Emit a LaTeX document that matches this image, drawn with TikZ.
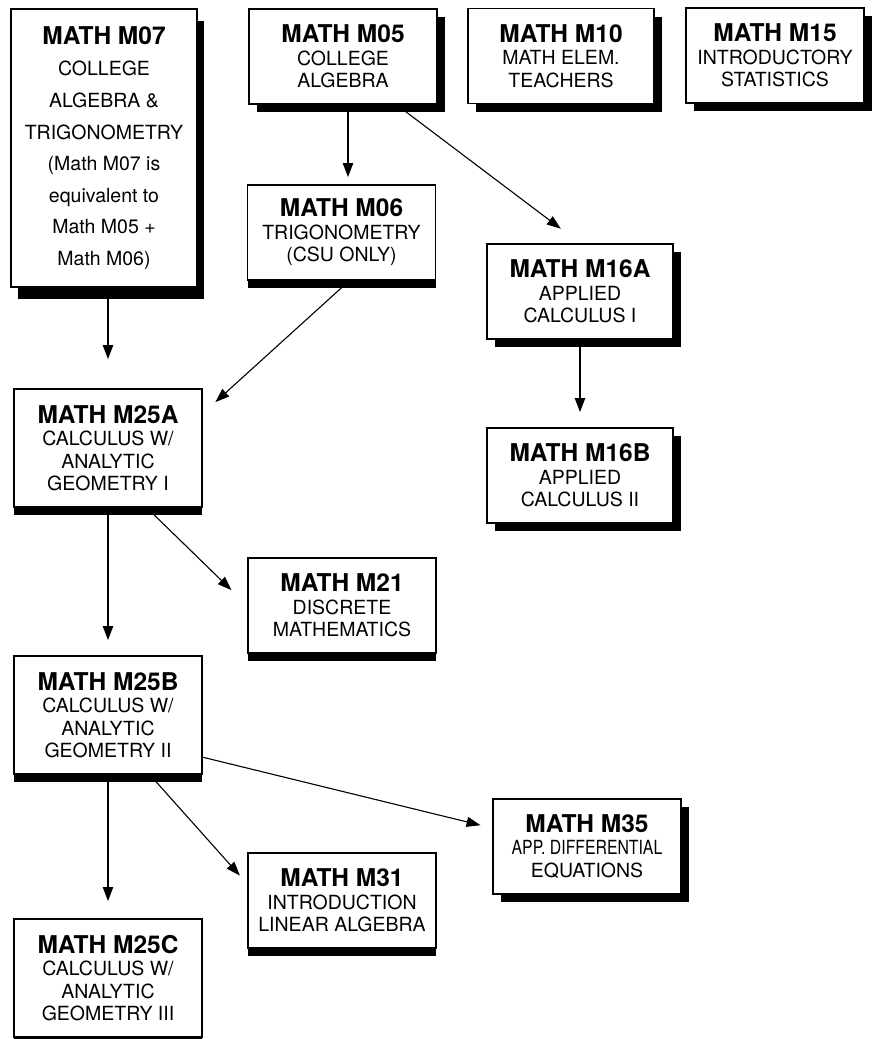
\documentclass[tikz,border=0pt]{standalone}
\usepackage{fontspec}
\setmainfont{TeX Gyre Heros}
\usetikzlibrary{arrows.meta,shadows}
\tikzset{
    >={Triangle[length=14pt,width=10pt]},
    course/.style = {
        draw,
        shape=rectangle,
        fill=white,
        line width=1.6pt,
        minimum width=188pt,
        minimum height=95pt,
        inner sep=0pt,
        align=center,
        font=\fontsize{19.5}{22.5}\selectfont
    },
    tall/.style = {
        minimum height=118pt
    },
    shadowrb/.style = {
        drop shadow={shadow xshift=8pt, shadow yshift=-8pt, fill=black, opacity=1}
    },
    shadowb/.style = {
        drop shadow={shadow xshift=0pt, shadow yshift=-8pt, fill=black, opacity=1}
    },
    prereq/.style = {
        draw,
        ->,
        line width=2pt
    },
    link/.style = {
        draw,
        ->,
        line width=1.1pt
    },
}
\newcommand{\ctitle}[1]{{\fontsize{24.5}{22.5}\selectfont\bfseries #1}}

\begin{document}
\begin{tikzpicture}[x=1pt, y=-1pt]
        \useasboundingbox (0,0) rectangle (871,1039);

        \node[course, minimum width=186pt, minimum height=278pt, font=\fontsize{19.5}{31.6}\selectfont,
              drop shadow={shadow xshift=7pt, shadow yshift=-12pt, fill=black, opacity=1}] (m07) at (104,148)
              {\ctitle{MATH M07}\\COLLEGE\\ALGEBRA \&\\TRIGONOMETRY\\(Math M07 is\\equivalent to\\Math M05 +\\Math M06)};
        \node[course, shadowrb] (m05) at (343,56.5) {\ctitle{MATH M05}\\COLLEGE\\ALGEBRA};
        \node[course, shadowrb, minimum width=186pt] (m10) at (561,56) {\ctitle{MATH M10}\\MATH ELEM.\\TEACHERS};
        \node[course, shadowrb, minimum width=178pt] (m15) at (775,55.5) {\ctitle{MATH M15}\\INTRODUCTORY\\STATISTICS};

        \node[course, shadowb] (m06) at (341.5,232.5) {\ctitle{MATH M06}\\TRIGONOMETRY\\(CSU ONLY)};
        \node[course, shadowrb, minimum width=186pt] (m16a) at (580,291.5) {\ctitle{MATH M16A}\\APPLIED\\CALCULUS I};
        \node[course, shadowrb, minimum width=186pt] (m16b) at (580,475.5) {\ctitle{MATH M16B}\\APPLIED\\CALCULUS II};

        \node[course, tall, shadowb] (m25a) at (108,448) {\ctitle{MATH M25A}\\CALCULUS W/\\ANALYTIC\\GEOMETRY I};
        \node[course, shadowb] (m21) at (342,605.5) {\ctitle{MATH M21}\\DISCRETE\\MATHEMATICS};
        \node[course, tall, shadowb] (m25b) at (108,715) {\ctitle{MATH M25B}\\CALCULUS W/\\ANALYTIC\\GEOMETRY II};
        \node[course, shadowb] (m31) at (342,900.5) {\ctitle{MATH M31}\\INTRODUCTION\\LINEAR ALGEBRA};
        \node[course, shadowrb] (m35) at (587,846.5) {\ctitle{MATH M35}\\\scalebox{.81}[1]{APP. DIFFERENTIAL}\\EQUATIONS};
        \node[course, tall, shadowb] (m25c) at (108,978) {\ctitle{MATH M25C}\\CALCULUS W/\\ANALYTIC\\GEOMETRY III};

        % prerequisites
        \path[prereq, shorten >=29pt] (m25a.north |- m07.south) -- (m25a.north);
        \path[prereq, shorten >=7pt] ([xshift=5pt]m05.south) -- ([xshift=6.5pt]m06.north);
        \path[link, shorten >=24pt] (m05.318) -- (m16a.north);
        \path[prereq, shorten >=15pt] (m16a.south) -- (m16b.north);
        \path[link, shorten >=17pt] (m06.279) -- (m25a.20);

        \path[link, shorten >=22pt] (m25a.303) -- (m21.west);
        \path[prereq, shorten >=15pt] (m25a.south) -- (m25b.north);
        \path[prereq, shorten >=17pt] (m25b.south) -- (m25c.north);
        \path[link, shorten >=11pt] (m25b.305) -- (m31.170);
        \path[link, shorten >=12pt] (m25b.336) -- (m35.169);
    \end{tikzpicture}
\end{document}
